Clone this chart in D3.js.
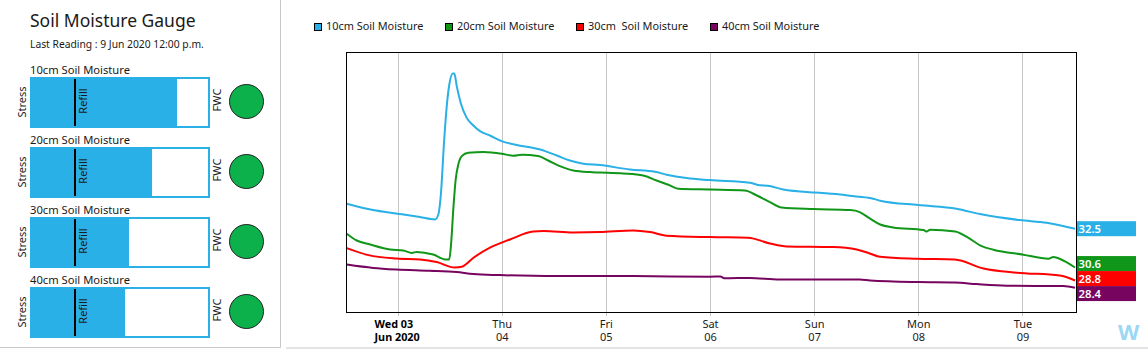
<!DOCTYPE html>
<html>
<head>
<meta charset="utf-8">
<script src="https://cdn.jsdelivr.net/npm/d3@7/dist/d3.min.js"></script>
<style>
html,body{margin:0;padding:0;background:#fff;overflow:hidden}
svg{display:block}
text{font-family:"Noto Sans",Tahoma,sans-serif;fill:#1a1a1a;white-space:pre}
</style>
</head>
<body>
<svg id="c" width="1148" height="355"></svg>
<script>
// ---- Data. Hours are counted from 3 Jun 2020 00:00. ----
// The plotted lines all share one vertical axis (read in units of the 10cm line).
const seriesNames = ["10cm Soil Moisture", "20cm Soil Moisture", "30cm  Soil Moisture", "40cm Soil Moisture"];
const gaugeNames = ["10cm Soil Moisture", "20cm Soil Moisture", "30cm Soil Moisture", "40cm Soil Moisture"];
const seriesColors = ["#29b0e6", "#109618", "#ff0000", "#77055f"];
const lastLabels = ["32.5", "30.6", "28.8", "28.4"];
const gaugeFill = [81.7, 67.8, 55, 52.8];
const refillLevel = 25;

const hours10 = [-11.7,-5.64,0,5.18,8.64,9.4,10.02,10.71,11.34,11.93,12.72,13.09,13.64,14.56,15.94,17.46,19,21.3,24,27.46,31.3,34,36.7,39.7,42.8,46.65,53.56,59.3,62,66.6,72,81.2,82.8,85.8,88.9,92.7,96.2,102,105.8,109.6,111.2,120,128.8,134.2,143.4,149.6,156.1];
const values10 = [33.74,33.42,33.24,33.07,32.95,33.2,34.3,36.8,38.62,39.7,40.25,40.25,39.62,38.78,38.03,37.65,37.37,37.15,36.87,36.67,36.52,36.37,36.15,35.9,35.74,35.67,35.45,35.34,35.19,35.02,34.92,34.79,34.69,34.62,34.45,34.35,34.3,34.2,34.1,33.99,33.89,33.67,33.49,33.22,32.92,32.79,32.49];

const hours20 = [-11.7,-9.4,-6.3,-1.7,1.3,3.3,4.4,8.2,11.2,11.9,12.3,12.9,13.4,14,14.8,16.3,19.8,24,26.7,28.6,32.4,34.7,37.4,40.5,44.3,46.65,52,56.6,59.7,62.4,64.7,72,80,82.8,85.8,88.5,95.8,104.3,106.5,108.9,111.2,114.2,121.2,122,122.7,128.5,131.1,134.6,137.3,144.2,150,151.1,153.4,156.1];
const values20 = [32.24,31.9,31.7,31.45,31.4,31.28,31.33,31.2,30.95,30.95,31.62,33.62,34.95,35.7,36.12,36.29,36.32,36.24,36.14,36.19,36.12,35.9,35.62,35.4,35.32,35.3,35.25,35.15,34.9,34.69,34.49,34.45,34.4,34.15,33.82,33.55,33.47,33.42,33.32,32.99,32.7,32.55,32.42,32.35,32.44,32.35,32.09,31.62,31.44,31.19,30.99,31.07,30.9,30.55];

const hours30 = [-11.7,-6.7,-0.2,5.2,9,13.2,14.8,17.5,21.3,25.9,31.3,33.6,40.5,46.65,54.3,58.2,62,72,80.8,85.8,89.7,100.4,105.8,108.8,111.2,119.6,128.4,135,142.7,152.6,156.1];
const values30 = [31.52,31.17,31,30.95,30.82,30.55,30.59,31.04,31.54,31.95,32.35,32.37,32.3,32.32,32.4,32.32,32.14,32.07,32.04,31.75,31.6,31.57,31.45,31.25,31.09,30.99,30.95,30.5,30.29,30.15,29.9];

const hours40 = [-11.7,-5.6,-0.2,7.4,13.6,17.5,23.6,36.6,48,54.3,72,74.4,75.3,81.2,88,106.5,108.9,120,128.4,133.4,140.3,153.4,156.1];
const values40 = [30.7,30.53,30.45,30.39,30.32,30.22,30.17,30.12,30.12,30.12,30.09,30.1,30.01,30.03,29.95,29.95,29.9,29.82,29.8,29.72,29.64,29.62,29.54];

const allHours = [hours10, hours20, hours30, hours40];
const allValues = [values10, values20, values30, values40];
const tickDays = [3, 4, 5, 6, 7, 8, 9];
const tickTop = ["Wed 03", "Thu", "Fri", "Sat", "Sun", "Mon", "Tue"];
const tickBottom = ["Jun 2020", "04", "05", "06", "07", "08", "09"];

// ---- Layout ----
const svg = d3.select("#c");
const start = new Date(2020, 5, 3);
const at = h => new Date(start.getTime() + h * 3600e3);
const x = d3.scaleTime().domain([at(-11.76), at(156.45)]).range([346.5, 1076.5]);
const y = d3.scaleLinear().domain([28.3, 41.3]).range([312.5, 52.5]);
const blue = seriesColors[0], grey = "#c8c8c8";

// Panel rules
svg.append("path").attr("d", "M0,347.5H280.5V0").attr("fill", "none").attr("stroke", grey);
svg.append("line").attr("x1", 286).attr("x2", 1148).attr("y1", 348).attr("y2", 348).attr("stroke", grey);

// Gauge panel
svg.append("text").attr("x", 30).attr("y", 27).attr("font-size", 17.5).text("Soil Moisture Gauge");
svg.append("text").attr("x", 30).attr("y", 48).attr("font-size", 10.3).text("Last Reading : 9 Jun 2020 12:00 p.m.");

const g = d3.scaleLinear().domain([0, 100]).range([30, 210]);
const rows = svg.selectAll("g.row").data(gaugeNames).join("g").attr("class", "row")
  .attr("transform", (d, i) => `translate(0,${77 + 70 * i})`);
rows.append("text").attr("x", 30).attr("y", -3).attr("font-size", 11.2).text(d => d);
rows.append("rect").attr("x", 31).attr("y", 1).attr("width", 178).attr("height", 49)
  .attr("fill", "#fff").attr("stroke", blue).attr("stroke-width", 2);
rows.append("rect").attr("x", g(0)).attr("y", 0).attr("height", 51)
  .attr("width", (d, i) => g(gaugeFill[i]) - g(0)).attr("fill", blue);
rows.append("rect").attr("x", g(refillLevel) - 1).attr("y", 2).attr("width", 2).attr("height", 47).attr("fill", "#000");
const vtext = (sel, px, py, t) => sel.append("text")
  .attr("transform", `translate(${px},${py}) rotate(-90)`)
  .attr("text-anchor", "middle").attr("font-size", 11).text(t);
vtext(rows, 26, 25, "Stress");
vtext(rows, 87, 24, "Refill");
vtext(rows, 221, 23, "FWC");
rows.append("circle").attr("cx", 246.5).attr("cy", 24.5).attr("r", 17)
  .attr("fill", "#0db14b").attr("stroke", "#222").attr("stroke-width", 1);

// Legend
const legendX = [314, 445, 576, 710];
const legend = svg.selectAll("g.leg").data(seriesNames).join("g").attr("class", "leg")
  .attr("transform", (d, i) => `translate(${legendX[i]},23)`);
legend.append("rect").attr("x", 0.5).attr("y", 0.5).attr("width", 7).attr("height", 7)
  .attr("fill", (d, i) => seriesColors[i]).attr("stroke", "#000");
legend.append("text").attr("x", 12).attr("y", 7).attr("font-size", 10.9).text(d => d);

// Grid + x axis
const tickDates = tickDays.map(d => new Date(2020, 5, d));
svg.append("g").selectAll("line").data(tickDates).join("line")
  .attr("x1", d => Math.round(x(d)) + 0.5).attr("x2", d => Math.round(x(d)) + 0.5)
  .attr("y1", 53).attr("y2", 316).attr("stroke", grey).attr("stroke-width", 1);

const axis = svg.append("g").attr("transform", "translate(0,312.5)")
  .call(d3.axisBottom(x).tickValues(tickDates).tickSize(0).tickPadding(0).tickFormat((d, i) => tickTop[i]));
axis.select(".domain").remove();
axis.selectAll(".tick text").attr("font-size", 11).attr("dy", 0).attr("y", 15).attr("fill", "#1a1a1a");
axis.selectAll(".tick").append("text").attr("text-anchor", "middle").attr("y", 28)
  .attr("font-size", 11).attr("fill", "#1a1a1a").text((d, i) => tickBottom[i]);
// The first tick carries the month and is bold and left aligned
axis.selectAll(".tick").filter((d, i) => i === 0).selectAll("text")
  .attr("text-anchor", "start").attr("x", -23.5).attr("font-weight", 700).style("fill", "#000").attr("font-size", 10.8);

// Lines
const line = d3.line().x(d => x(d[0])).y(d => y(d[1])).curve(d3.curveMonotoneX);
svg.append("g").attr("fill", "none").attr("stroke-width", 2).attr("stroke-linejoin", "round")
  .selectAll("path").data(allValues).join("path")
  .attr("stroke", (d, i) => seriesColors[i])
  .attr("d", (vals, i) => line(vals.map((v, k) => [at(allHours[i][k]), v])));

// Plot frame (left, bottom, right, top)
svg.append("rect").attr("x", 346.5).attr("y", 52.5).attr("width", 730).attr("height", 260)
  .attr("fill", "none").attr("stroke", "#000").attr("stroke-width", 1);

// End labels: lines closer than one label height are grouped and spread around their mean
const labelH = 15;
const ends = allValues.map((v, i) => ({ i, py: y(v[v.length - 1]) }));
let groups = [];
ends.forEach(e => {
  const last = groups[groups.length - 1];
  if (last && e.py - last[last.length - 1].py < labelH) last.push(e); else groups.push([e]);
});
groups.forEach(gr => {
  const m = d3.mean(gr, e => e.py);
  gr.forEach((e, k) => e.cy = m + (k - (gr.length - 1) / 2) * labelH);
});
const endG = svg.selectAll("g.end").data(ends).join("g").attr("class", "end")
  .attr("transform", d => `translate(1077,${d.cy})`);
endG.append("rect").attr("x", 0).attr("y", -7.5).attr("width", 59).attr("height", labelH)
  .attr("fill", d => seriesColors[d.i]);
endG.append("text").attr("x", 1.5).attr("y", 4).attr("font-size", 11.3).attr("font-weight", 600)
  .style("fill", "#fff").text(d => lastLabels[d.i]);

// Watermark
svg.append("text").attr("x", 1118).attr("y", 340).attr("font-size", 22).attr("font-weight", 700)
  .style("fill", "#9ad8f5").text("W");
</script>
</body>
</html>
